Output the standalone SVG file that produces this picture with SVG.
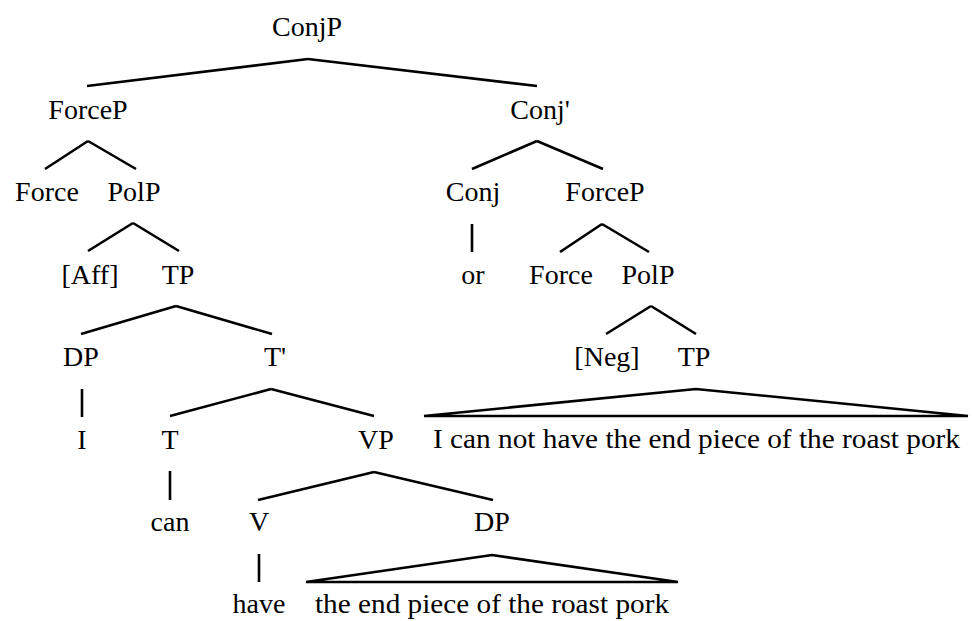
<svg xmlns="http://www.w3.org/2000/svg" width="972" height="621" viewBox="0 0 972 621">
<style>
text{font-family:'Liberation Serif','Times New Roman',serif;font-size:28px;fill:#000;text-anchor:middle}
.e line,.e polygon{stroke:#000;stroke-width:2.6;fill:none;stroke-linecap:butt}
</style>
<rect width="972" height="621" fill="#fff"/>
<g class="e" id="connectors">
<line x1="308" y1="59" x2="87" y2="86"/><line x1="308" y1="59" x2="537" y2="86"/>
<line x1="88" y1="141" x2="45" y2="169"/><line x1="88" y1="141" x2="136" y2="169"/>
<line x1="133" y1="223" x2="88" y2="251"/><line x1="133" y1="223" x2="179" y2="251"/>
<line x1="176" y1="306" x2="81" y2="334"/><line x1="176" y1="306" x2="272" y2="334"/>
<line x1="82" y1="389" x2="82" y2="417"/>
<line x1="271" y1="389" x2="170" y2="416"/><line x1="271" y1="389" x2="374" y2="416"/>
<line x1="170" y1="471" x2="170" y2="500"/>
<line x1="374" y1="472" x2="258" y2="500"/><line x1="374" y1="472" x2="493" y2="500"/>
<line x1="259" y1="554" x2="259" y2="582"/>
<polygon points="492,555 306,582 678,582"/>
<line x1="537" y1="141" x2="472" y2="169"/><line x1="537" y1="141" x2="603" y2="169"/>
<line x1="472" y1="224" x2="472" y2="252"/>
<line x1="602" y1="224" x2="560" y2="252"/><line x1="602" y1="224" x2="649" y2="252"/>
<line x1="651" y1="306" x2="606" y2="334"/><line x1="651" y1="306" x2="696" y2="334"/>
<polygon points="696,389 424,416 968,416"/>
</g>
<g id="n-conjp"><text x="307" y="36">ConjP</text></g>
<g id="n-forcep1"><text x="88" y="119">ForceP</text></g>
<g id="n-force1"><text x="47" y="201">Force</text></g>
<g id="n-polp1"><text x="134" y="201">PolP</text></g>
<g id="n-aff"><text x="90" y="284">[Aff]</text></g>
<g id="n-tp1"><text x="178" y="284">TP</text></g>
<g id="n-dp1"><text x="81" y="366">DP</text></g>
<g id="n-tbar"><text x="275" y="366">T'</text></g>
<g id="n-i"><text x="82" y="449">I</text></g>
<g id="n-t"><text x="170" y="449">T</text></g>
<g id="n-vp"><text x="376" y="449">VP</text></g>
<g id="n-can"><text x="170" y="531">can</text></g>
<g id="n-v"><text x="259" y="531">V</text></g>
<g id="n-dp2"><text x="492" y="531">DP</text></g>
<g id="n-have"><text x="259" y="613">have</text></g>
<g id="n-dp2text"><text x="492" y="613" textLength="354" lengthAdjust="spacingAndGlyphs">the end piece of the roast pork</text></g>
<g id="n-conjbar"><text x="540" y="119">Conj'</text></g>
<g id="n-conj"><text x="473" y="201">Conj</text></g>
<g id="n-forcep2"><text x="605" y="201">ForceP</text></g>
<g id="n-or"><text x="473" y="284">or</text></g>
<g id="n-force2"><text x="561" y="284">Force</text></g>
<g id="n-polp2"><text x="648" y="284">PolP</text></g>
<g id="n-neg"><text x="607" y="366">[Neg]</text></g>
<g id="n-tp2"><text x="694" y="366">TP</text></g>
<g id="n-tp2text"><text x="696.5" y="448" textLength="527" lengthAdjust="spacingAndGlyphs">I can not have the end piece of the roast pork</text></g>
</svg>
